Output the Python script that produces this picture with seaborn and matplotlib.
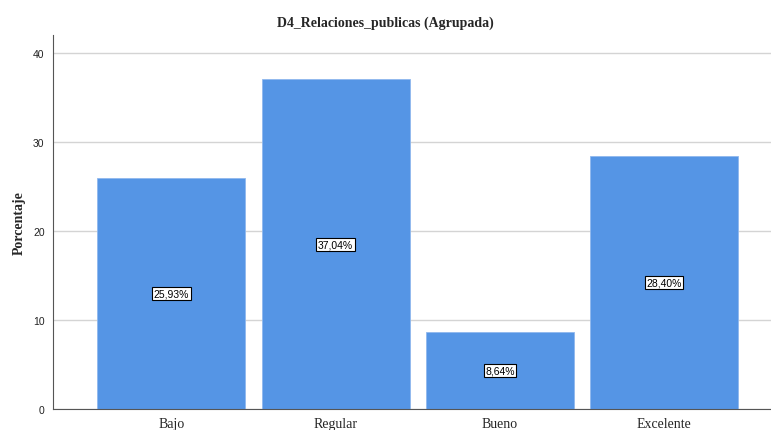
import pandas as pd
import matplotlib
matplotlib.use("Agg")
import matplotlib.pyplot as plt
import seaborn as sns

# Data
categories = ["Bajo", "Regular", "Bueno", "Excelente"]
percentages = [25.93, 37.04, 8.64, 28.40]
title = "D4_Relaciones_publicas (Agrupada)"

df = pd.DataFrame({"categoria": categories, "porcentaje": percentages})

sns.set_style("white")
plt.rcParams["font.family"] = ["DejaVu Sans"]

fig = plt.figure(figsize=(7.71, 4.31), dpi=100)
ax = fig.add_axes([0.0687, 0.0487, 0.9313, 0.8678])

sns.barplot(data=df, x="categoria", y="porcentaje", color="#5595E5",
            saturation=1, width=0.9, ax=ax, zorder=2,
            edgecolor="#8fb8ee", linewidth=0.6)

# value labels in the middle of each bar
for i, v in enumerate(percentages):
    ax.text(i, v / 2, f"{v:.2f}%".replace(".", ","), ha="center", va="center",
            fontsize=7.5, family="Liberation Sans", color="black", zorder=5,
            bbox=dict(boxstyle="square,pad=0.15", fc="white", ec="black", lw=0.8))

ax.set_ylim(0, 42)
ax.set_xlim(-0.72, 3.65)
ax.set_yticks([0, 10, 20, 30, 40])
ax.yaxis.grid(True, color="#d4d4d4", lw=1, zorder=0)
ax.set_axisbelow(True)

for s in ["top", "right"]:
    ax.spines[s].set_visible(False)
for s in ["left", "bottom"]:
    ax.spines[s].set_color("#555555")
    ax.spines[s].set_linewidth(0.8)

ax.tick_params(axis="y", length=0, labelsize=7.5, pad=6)
ax.tick_params(axis="x", length=0, pad=6)
for lab in ax.get_yticklabels():
    lab.set_family("Liberation Sans")
    lab.set_color("#222222")
for lab in ax.get_xticklabels():
    lab.set_family("Liberation Serif")
    lab.set_fontsize(10)

ax.set_xlabel("")
ax.set_ylabel("Porcentaje", family="Liberation Serif", fontweight="bold",
              fontsize=10)
ax.yaxis.set_label_coords(-0.038, 0.5)
fig.suptitle(title, family="Liberation Serif", fontweight="bold",
             fontsize=10, y=0.962)

fig.savefig("out.png", dpi=100)
